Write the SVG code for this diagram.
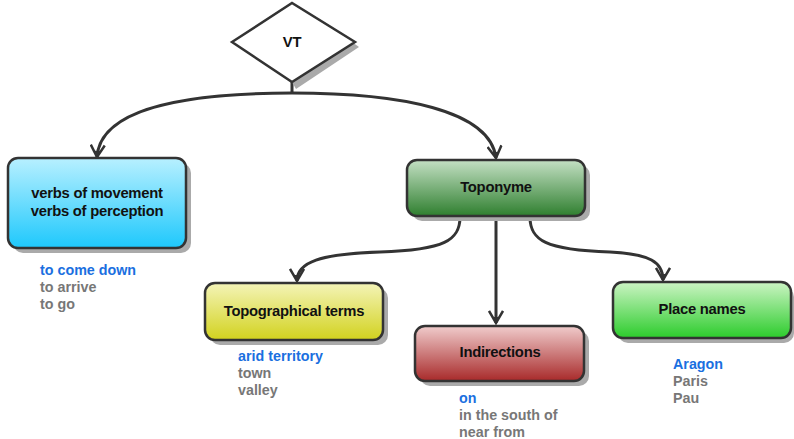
<svg xmlns="http://www.w3.org/2000/svg" width="794" height="439" viewBox="0 0 794 439">
<style>
.box{stroke:#333;stroke-width:2.5}
.sh{fill:#aaa}
.lbl{font-family:"Liberation Sans",Arial,sans-serif;font-weight:bold;font-size:14.8px;letter-spacing:-0.25px;fill:#111;text-anchor:middle}
.ex{font-family:"Liberation Sans",Arial,sans-serif;font-weight:bold;font-size:14.3px;fill:#777}
.ex .b{fill:#1a6fe0}
.con{fill:none;stroke:#333;stroke-width:3}
</style>
<defs>
<linearGradient id="gC" x1="0" y1="0" x2="0" y2="1"><stop offset="0" stop-color="#b8f0ff"/><stop offset="1" stop-color="#1ec8fc"/></linearGradient>
<linearGradient id="gT" x1="0" y1="0" x2="0" y2="1"><stop offset="0" stop-color="#c4e0c4"/><stop offset="1" stop-color="#2f7f2f"/></linearGradient>
<linearGradient id="gY" x1="0" y1="0" x2="0" y2="1"><stop offset="0" stop-color="#f4f4b8"/><stop offset="1" stop-color="#d2d21e"/></linearGradient>
<linearGradient id="gR" x1="0" y1="0" x2="0" y2="1"><stop offset="0" stop-color="#f0cccc"/><stop offset="1" stop-color="#a82a2a"/></linearGradient>
<linearGradient id="gG" x1="0" y1="0" x2="0" y2="1"><stop offset="0" stop-color="#ccf4c4"/><stop offset="1" stop-color="#2ccc2c"/></linearGradient>
<marker id="arr" viewBox="0 0 16 16" refX="14" refY="8" markerWidth="16" markerHeight="16" markerUnits="userSpaceOnUse" orient="auto">
<path d="M2,1 L14,8 L2,15" fill="none" stroke="#333" stroke-width="2.5"/>
<path d="M8,5 L14,8 L8,11 Z" fill="#333"/>
</marker>
</defs>
<g id="connectors">
<path class="con" d="M292,82 L292,93"/>
<path class="con" d="M292,93 C180,93 100,110 97,157" marker-end="url(#arr)"/>
<path class="con" d="M292,93 C400,93 490,110 496,158" marker-end="url(#arr)"/>
<path class="con" d="M460,217 C460,240 445,250 380,252 C320,254 297,262 297,281" marker-end="url(#arr)"/>
<path class="con" d="M496,217 L496,323" marker-end="url(#arr)"/>
<path class="con" d="M530,217 C530,240 545,250 610,252 C650,254 663,262 663,280" marker-end="url(#arr)"/>
</g>
<g id="vt">
<polygon class="sh" points="359,47 296,89 292,82 352,42"/>
<polygon points="232,42 292,3 355,42 292,82" fill="#fff" stroke="#333" stroke-width="2.5"/>
<text class="lbl" x="292" y="47">VT</text>
</g>
<g id="verbs">
<rect class="sh" x="13" y="163" width="178" height="90" rx="10"/>
<rect class="box" x="8" y="158" width="178" height="90" rx="10" fill="url(#gC)"/>
<text class="lbl" x="97" y="198">verbs of movement</text>
<text class="lbl" x="97" y="216">verbs of perception</text>
<text class="ex" x="40" y="275"><tspan class="b">to come down</tspan><tspan x="40" dy="17">to arrive</tspan><tspan x="40" dy="17">to go</tspan></text>
</g>
<g id="toponyme">
<rect class="sh" x="412" y="165" width="178" height="56" rx="10"/>
<rect class="box" x="407" y="160" width="178" height="56" rx="10" fill="url(#gT)"/>
<text class="lbl" x="496" y="192">Toponyme</text>
</g>
<g id="topographical">
<rect class="sh" x="210" y="288" width="178" height="57" rx="10"/>
<rect class="box" x="205" y="283" width="178" height="57" rx="10" fill="url(#gY)"/>
<text class="lbl" x="294" y="316">Topographical terms</text>
<text class="ex" x="238" y="361"><tspan class="b">arid territory</tspan><tspan x="238" dy="17">town</tspan><tspan x="238" dy="17">valley</tspan></text>
</g>
<g id="indirections">
<rect class="sh" x="420" y="331" width="169" height="55" rx="10"/>
<rect class="box" x="415" y="326" width="169" height="55" rx="10" fill="url(#gR)"/>
<text class="lbl" x="500" y="357">Indirections</text>
<text class="ex" x="459" y="403"><tspan class="b">on</tspan><tspan x="459" dy="17">in the south of</tspan><tspan x="459" dy="17">near from</tspan></text>
</g>
<g id="placenames">
<rect class="sh" x="618" y="287" width="176" height="56" rx="10"/>
<rect class="box" x="613" y="282" width="178" height="56" rx="10" fill="url(#gG)"/>
<text class="lbl" x="702" y="314">Place names</text>
<text class="ex" x="673" y="369"><tspan class="b">Aragon</tspan><tspan x="673" dy="17">Paris</tspan><tspan x="673" dy="17">Pau</tspan></text>
</g>
</svg>
